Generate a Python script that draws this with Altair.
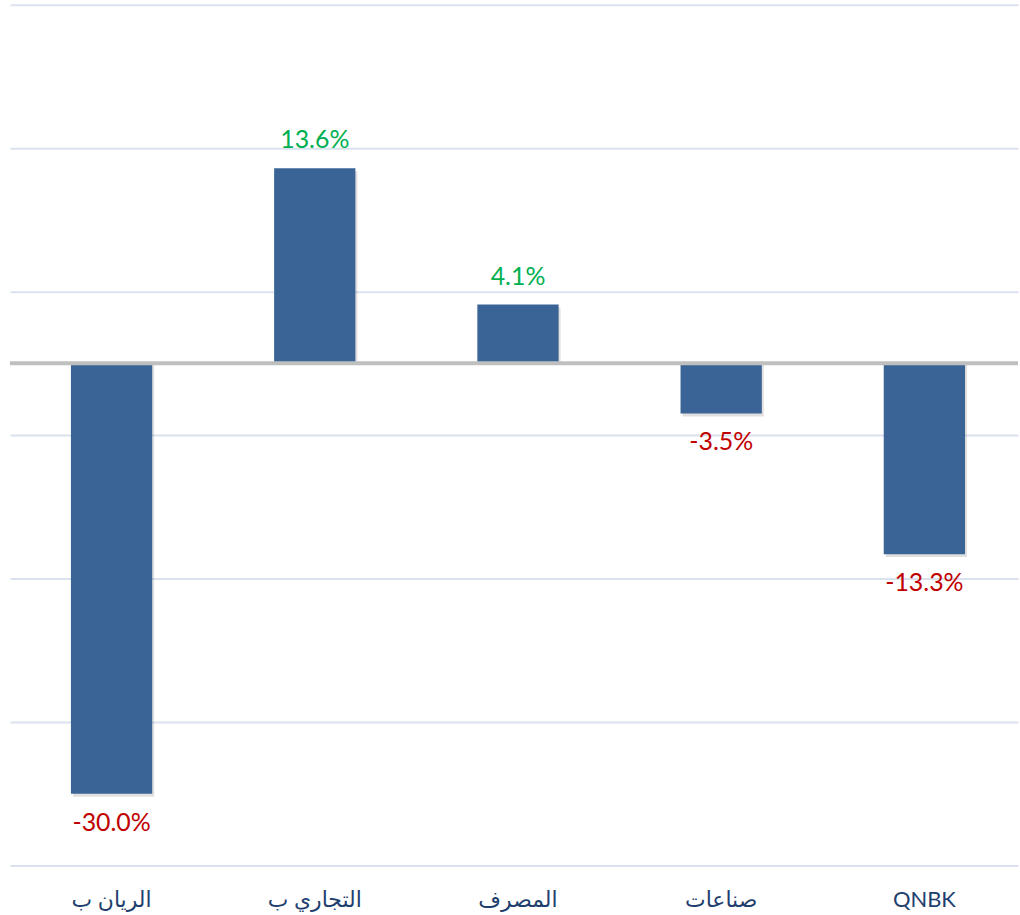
import altair as alt
import pandas as pd

categories = ["الريان ب", "التجاري ب", "المصرف", "صناعات", "QNBK"]
values = [-30.0, 13.6, 4.1, -3.5, -13.3]
labels = ["-30.0%", "13.6%", "4.1%", "-3.5%", "-13.3%"]
grid_values = [-35, -25, -15, -5, 5, 15, 25]

df = pd.DataFrame({"cat": categories, "val": values, "lbl": labels})

x = alt.X("cat:N", sort=categories,
          scale=alt.Scale(paddingInner=0.6, paddingOuter=0.2804, align=0.535),
          axis=alt.Axis(title=None, domain=False, ticks=False, tickSize=0, grid=False,
                        labelAngle=0, labelAlign="center", labelFont="Lato, DejaVu Sans",
                        labelFontSize=22, labelColor="#1F3F6E", labelPadding=41,
                        labelBaseline="alphabetic"))
y = alt.Y("val:Q", scale=alt.Scale(domain=[-35, 25], nice=False, zero=False),
          axis=alt.Axis(title=None, values=grid_values, labels=False, ticks=False, tickSize=0,
                        domain=False, grid=True, gridColor="#D9E2EE", gridWidth=2))

base = alt.Chart(df)

shadow = base.mark_bar(color="#000000", opacity=0.12, xOffset=2, yOffset=3).encode(
    x=alt.X("cat:N", sort=categories), y=alt.Y("val:Q"), y2=alt.datum(0))
bars = base.mark_bar(color="#3A6496").encode(x=x, y=y, y2=alt.datum(0))

zero = alt.Chart(pd.DataFrame({"z": [0]})).mark_rule(color="#BFBFBF", strokeWidth=4).encode(
    y="z:Q", x=alt.value(0), x2=alt.value(1012))

pos = base.transform_filter("datum.val >= 0").mark_text(
    font="Lato", fontSize=25, color="#00B050", baseline="alphabetic", align="center", dy=-20).encode(
    x=alt.X("cat:N", sort=categories), y="val:Q", text="lbl:N")
neg = base.transform_filter("datum.val < 0").mark_text(
    font="Lato", fontSize=25, color="#C00000", baseline="alphabetic", align="center", dy=37).encode(
    x=alt.X("cat:N", sort=categories), y="val:Q", text="lbl:N")

chart = alt.layer(shadow, bars, zero, pos, neg).properties(
    width=1012, height=864, background="white",
    padding={"left": 8, "top": 3, "right": 0, "bottom": 0}
).configure_view(stroke=None)

chart.save("out.html", embed_options={"renderer": "svg", "actions": False})
